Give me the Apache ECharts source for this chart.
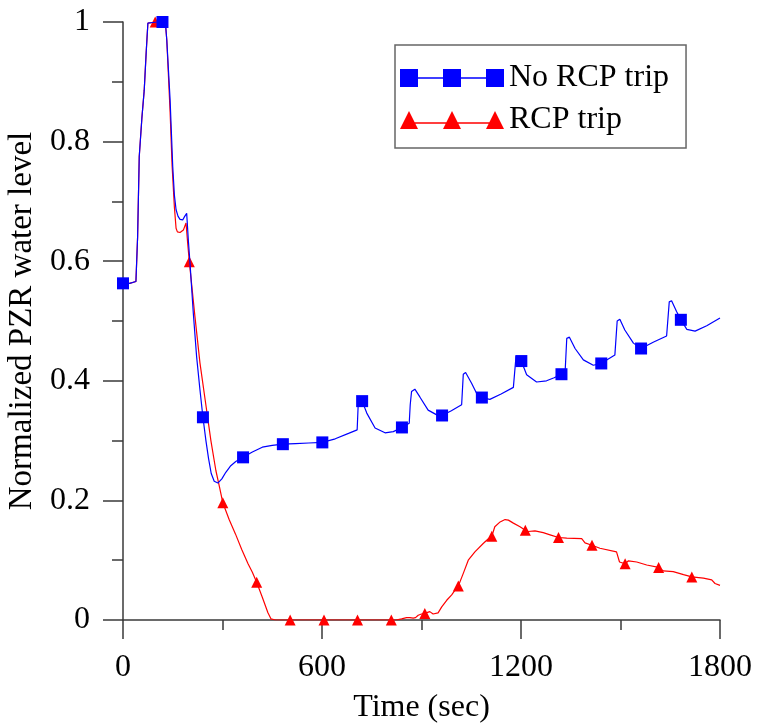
<!DOCTYPE html>
<html>
<head>
<meta charset="utf-8">
<script src="https://cdn.jsdelivr.net/npm/echarts@6/dist/echarts.min.js"></script>
<style>html,body{margin:0;padding:0;background:#fff}#c{width:758px;height:726px}</style>
</head>
<body>
<div id="c"></div>
<script>
const seriesNames = ['No RCP trip', 'RCP trip'];

const blueTimes = [0,20,39,44,49,57,64,70,75,80,100,119,128,132,137,142,150,155,160,166,172,180,186,192,197,202,212,222,232,241,250,258,266,275,286,298,310,325,340,362,390,420,450,482,520,560,601,640,680,706,710,721,735,760,790,815,841,863,866,870,880,895,920,946,962,990,1021,1026,1033,1051,1066,1082,1106,1140,1177,1185,1190,1201,1217,1247,1277,1300,1322,1333,1338,1346,1363,1388,1418,1442,1462,1483,1490,1498,1513,1539,1562,1600,1639,1647,1654,1669,1682,1700,1725,1760,1800];
const blueValues = [0.563,0.563,0.566,0.64,0.775,0.84,0.886,0.95,0.998,1.0,1.0,1.0,0.998,0.97,0.92,0.87,0.758,0.71,0.686,0.675,0.670,0.669,0.675,0.680,0.635,0.597,0.513,0.44,0.385,0.339,0.30,0.27,0.245,0.232,0.229,0.236,0.247,0.258,0.265,0.272,0.281,0.289,0.292,0.294,0.295,0.296,0.297,0.303,0.312,0.318,0.372,0.366,0.346,0.321,0.313,0.315,0.322,0.329,0.36,0.382,0.386,0.373,0.351,0.343,0.342,0.350,0.360,0.411,0.414,0.396,0.379,0.372,0.369,0.378,0.389,0.441,0.442,0.433,0.410,0.398,0.400,0.405,0.411,0.415,0.471,0.473,0.454,0.435,0.426,0.429,0.436,0.443,0.500,0.503,0.485,0.463,0.454,0.465,0.475,0.532,0.534,0.516,0.502,0.486,0.483,0.492,0.505];
const blueMarkerTimes = [0,119,241,362,482,601,721,841,962,1082,1201,1322,1442,1562,1682];

const redTimes = [0,20,39,44,49,57,64,70,75,80,97,120,128,132,137,142,148,155,160,164,172,182,190,195,200,217,232,248,265,280,291,301,320,339,358,377,390,403,420,437,446,460,504,606,707,809,823,840,855,865,875,882,890,900,910,925,935,941,950,961,976,991,1000,1011,1026,1041,1061,1086,1100,1112,1121,1137,1152,1162,1177,1197,1213,1222,1242,1247,1267,1290,1313,1338,1383,1393,1414,1438,1488,1494,1497,1514,1524,1549,1579,1615,1629,1659,1690,1715,1750,1775,1785,1800];
const redValues = [0.563,0.563,0.566,0.64,0.775,0.84,0.886,0.95,0.998,1.0,1.0,1.0,0.998,0.97,0.91,0.85,0.76,0.69,0.655,0.649,0.648,0.652,0.664,0.63,0.599,0.507,0.43,0.367,0.30,0.25,0.222,0.196,0.168,0.144,0.118,0.094,0.080,0.063,0.038,0.012,0.002,0,0,0,0,0,0,0.002,0.004,0.004,0.003,0.004,0.008,0.010,0.011,0.014,0.010,0.008,0.012,0.022,0.033,0.042,0.049,0.057,0.078,0.100,0.114,0.128,0.135,0.140,0.156,0.164,0.168,0.167,0.162,0.156,0.150,0.148,0.149,0.146,0.146,0.142,0.138,0.137,0.136,0.129,0.125,0.120,0.114,0.113,0.097,0.094,0.099,0.097,0.092,0.088,0.082,0.081,0.076,0.072,0.070,0.067,0.061,0.058];
const redMarkerTimes = [97,200,301,403,504,606,707,809,910,1011,1112,1213,1313,1414,1514,1615,1715];

const xAxisMin = 0, xAxisMax = 1800, xAxisInterval = 600;
const yAxisMin = 0, yAxisMax = 1, yAxisInterval = 0.2;

function build(times, values, markers, sym) {
  return times.map((t, i) => ({
    value: [t, values[i]],
    symbol: markers.indexOf(t) >= 0 ? sym : 'none'
  }));
}

const FONT = 'Liberation Serif';
const axisColor = '#3a3a3a';

const blueIcon = 'path://M0 0H18V18H0Z M43 0H61V18H43Z M86 0H104V18H86Z M18 8.3H43V9.7H18Z M61 8.3H86V9.7H61Z';
const redIcon = 'path://M9 0L18 18H0Z M52 0L61 18H43Z M95 0L104 18H86Z M14 11.3H48V12.7H14Z M57 11.3H91V12.7H57Z';

const chart = echarts.init(document.getElementById('c'), null, {renderer: 'canvas'});
chart.setOption({
  animation: false,
  backgroundColor: '#fff',
  grid: {left: 123, top: 22, width: 597, height: 598, containLabel: false, outerBoundsMode: 'none'},
  legend: {
    orient: 'vertical',
    left: 395, top: 45,
    padding: [17, 17, 12, 5],
    itemGap: 10,
    itemWidth: 104, itemHeight: 18,
    borderColor: '#666', borderWidth: 1.5,
    textStyle: {fontFamily: FONT, fontSize: 32, color: '#000'},
    data: [
      {name: seriesNames[0], icon: blueIcon},
      {name: seriesNames[1], icon: redIcon}
    ]
  },
  xAxis: {
    type: 'value', min: xAxisMin, max: xAxisMax, interval: xAxisInterval,
    name: 'Time (sec)', nameLocation: 'middle', nameGap: 72,
    nameTextStyle: {fontFamily: FONT, fontSize: 32, color: '#000'},
    axisLine: {lineStyle: {color: axisColor, width: 1.5}},
    axisTick: {length: 19, lineStyle: {color: axisColor, width: 1.5}},
    minorTick: {show: true, splitNumber: 2, length: 10, lineStyle: {color: axisColor, width: 1.5}},
    splitLine: {show: false},
    axisLabel: {fontFamily: FONT, fontSize: 32, color: '#000', margin: 32, formatter: v => String(v)}
  },
  yAxis: {
    type: 'value', min: yAxisMin, max: yAxisMax, interval: yAxisInterval,
    name: 'Normalized PZR water level', nameLocation: 'middle', nameGap: 77,
    nameTextStyle: {fontFamily: FONT, fontSize: 33, color: '#000'},
    axisLine: {show: true, lineStyle: {color: axisColor, width: 1.5}},
    axisTick: {show: true, length: 20, lineStyle: {color: axisColor, width: 1.5}},
    minorTick: {show: true, splitNumber: 2, length: 11, lineStyle: {color: axisColor, width: 1.5}},
    splitLine: {show: false},
    axisLabel: {fontFamily: FONT, fontSize: 32, color: '#000', margin: 33, formatter: v => String(v)}
  },
  series: [
    {
      name: seriesNames[1], type: 'line',
      data: build(redTimes, redValues, redMarkerTimes, 'triangle'),
      symbolSize: 11, showAllSymbol: true,
      color: '#ff0000',
      itemStyle: {color: '#ff0000', borderWidth: 0},
      lineStyle: {color: '#ff0000', width: 1.2},
      z: 2
    },
    {
      name: seriesNames[0], type: 'line',
      data: build(blueTimes, blueValues, blueMarkerTimes, 'rect'),
      symbolSize: 12, showAllSymbol: true,
      color: '#0000ff',
      itemStyle: {color: '#0000ff', borderWidth: 0},
      lineStyle: {color: '#0000ff', width: 1.2},
      z: 3
    }
  ]
});
</script>
</body>
</html>
